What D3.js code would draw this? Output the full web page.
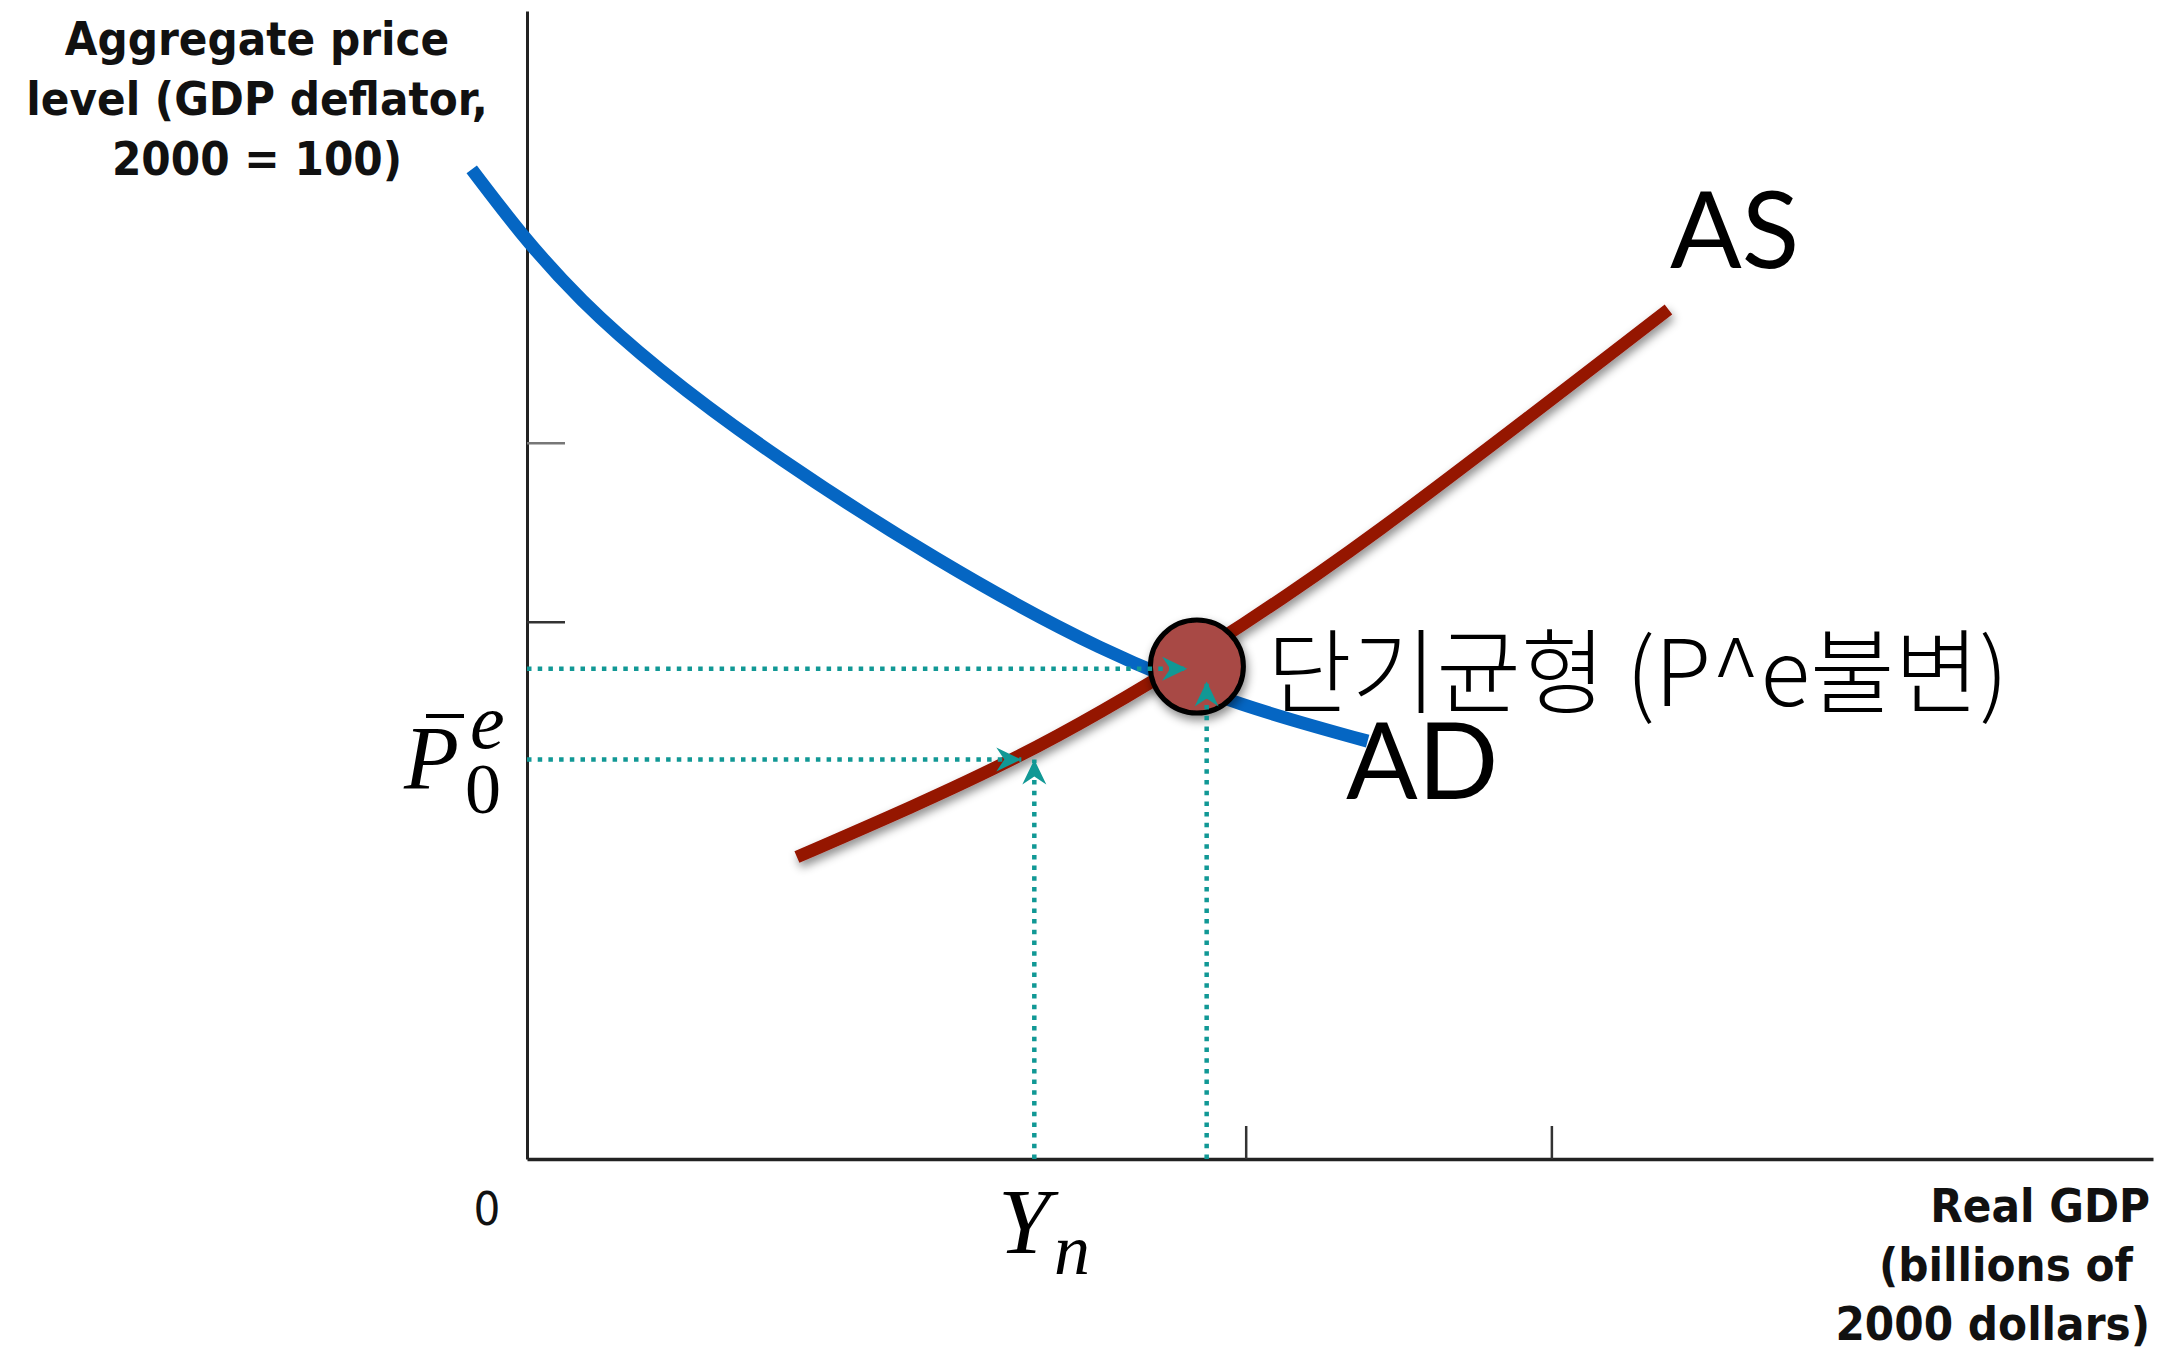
<!DOCTYPE html>
<html>
<head>
<meta charset="utf-8">
<script src="https://cdn.jsdelivr.net/npm/d3@7"></script>
<style>
  html, body { margin: 0; padding: 0; background: #fff; }
  svg { display: block; }
</style>
</head>
<body>
<div id="chart"></div>
<script>
// curve data (arbitrary units, 0-100 on both axes)
const adX = [-3.4, 3.4, 15.7, 35.2, 51.7];
const adY = [86.2, 74.8, 60.9, 44.6, 36.4];
const asX = [16.6, 30.1, 41.2, 52.6, 70.2];
const asY = [26.3, 35.0, 44.0, 55.0, 74.0];

// short-run equilibrium marker and guide levels
const eqPoint = [41.2, 42.9];
const eqPrice = 42.7;
const pExpected = 34.8;
const yNatural = 31.2;
const eqOutput = 41.8;

// tick positions (no labels)
const xTicks = [44.2, 63.0];
const yTicks = [62.4, 46.8];

const yTitle = ["Aggregate price", "level (GDP deflator,", "2000 = 100)"];
const xTitle = ["Real GDP", "(billions of", "2000 dollars)"];

const W = 2171, H = 1356;

const svg = d3.select("#chart")
  .append("svg")
  .attr("width", W)
  .attr("height", H);

const x = d3.scaleLinear().domain([0, 100]).range([527, 2153]);
const y = d3.scaleLinear().domain([0, 100]).range([1159, 11]);

const defs = svg.append("defs");
const shadow = defs.append("filter").attr("id", "shadow")
  .attr("x", "-20%").attr("y", "-20%").attr("width", "140%").attr("height", "140%");
shadow.append("feDropShadow")
  .attr("dx", 2).attr("dy", 5).attr("stdDeviation", 5)
  .attr("flood-color", "#000").attr("flood-opacity", 0.45);

const teal = "#119895";
defs.append("marker")
  .attr("id", "arrow")
  .attr("viewBox", "-26 -13 28 26")
  .attr("markerUnits", "userSpaceOnUse")
  .attr("markerWidth", 28)
  .attr("markerHeight", 26)
  .attr("refX", 0).attr("refY", 0)
  .attr("orient", "auto")
  .append("path")
  .attr("d", "M0,0 L-25,-12 L-17,0 L-25,12 Z")
  .attr("fill", teal);

// axes
const axisFont = "'DejaVu Sans Condensed', 'DejaVu Sans', sans-serif";

svg.append("g")
  .attr("transform", `translate(${x(0)},0)`)
  .call(d3.axisLeft(y).tickValues(yTicks).tickSize(-38).tickSizeOuter(0).tickFormat(""))
  .call(g => g.select(".domain").attr("stroke", "#222").attr("stroke-width", 3))
  .call(g => g.selectAll(".tick line").attr("stroke", (d, i) => i === 0 ? "#777" : "#333").attr("stroke-width", 2.5));

svg.append("g")
  .attr("transform", `translate(0,${y(0)})`)
  .call(d3.axisBottom(x).tickValues(xTicks).tickSize(-33).tickSizeOuter(0).tickFormat(""))
  .call(g => g.select(".domain").attr("stroke", "#222").attr("stroke-width", 3.5))
  .call(g => g.selectAll(".tick line").attr("stroke", "#333").attr("stroke-width", 2.5));

// axis titles
svg.append("g").selectAll("text")
  .data(yTitle)
  .join("text")
  .attr("x", 257)
  .attr("y", (d, i) => 55 + i * 60)
  .attr("text-anchor", "middle")
  .attr("font-family", axisFont)
  .attr("font-weight", "bold")
  .attr("font-size", 47)
  .attr("fill", "#111")
  .text(d => d);

svg.append("g").selectAll("text")
  .data(xTitle)
  .join("text")
  .attr("x", (d, i) => i === 1 ? 2133 : 2150)
  .attr("y", (d, i) => 1222 + i * 59)
  .attr("text-anchor", "end")
  .attr("font-family", axisFont)
  .attr("font-weight", "bold")
  .attr("font-size", 47)
  .attr("fill", "#111")
  .text(d => d);

svg.append("text")
  .attr("x", 487).attr("y", 1225)
  .attr("text-anchor", "middle")
  .attr("font-family", axisFont)
  .attr("font-size", 47)
  .attr("fill", "#111")
  .text("0");

// curves
const line = d3.line()
  .x(d => x(d[0]))
  .y(d => y(d[1]))
  .curve(d3.curveNatural);

svg.append("path")
  .datum(adX.map((v, i) => [v, adY[i]]))
  .attr("d", line)
  .attr("fill", "none")
  .attr("stroke", "#0566C3")
  .attr("stroke-width", 13);

svg.append("path")
  .datum(asX.map((v, i) => [v, asY[i]]))
  .attr("d", line)
  .attr("fill", "none")
  .attr("stroke", "#951300")
  .attr("stroke-width", 12.5)
  .attr("filter", "url(#shadow)");

// equilibrium point
svg.append("circle")
  .attr("cx", x(eqPoint[0]))
  .attr("cy", y(eqPoint[1]))
  .attr("r", 46.5)
  .attr("fill", "#A84A44")
  .attr("stroke", "#000")
  .attr("stroke-width", 5)
  .attr("filter", "url(#shadow)");

// dotted guide lines with arrows
const guides = [
  [[0, eqPrice], [40.6, eqPrice]],
  [[0, pExpected], [30.4, pExpected]],
  [[yNatural, 0], [yNatural, 34.8]],
  [[eqOutput, 0], [eqOutput, 41.6]]
];

svg.append("g").selectAll("path")
  .data(guides)
  .join("path")
  .attr("d", d3.line().x(d => x(d[0])).y(d => y(d[1])))
  .attr("fill", "none")
  .attr("stroke", teal)
  .attr("stroke-width", 4.5)
  .attr("stroke-dasharray", "4.5 6.2")
  .attr("marker-end", "url(#arrow)");

// curve labels
const labelFont = "Lato, 'Open Sans', sans-serif";
svg.append("text")
  .attr("x", 1670).attr("y", 268)
  .attr("font-family", labelFont)
  .attr("font-size", 106)
  .attr("fill", "#000")
  .text("AS");

svg.append("text")
  .attr("x", 1346).attr("y", 799)
  .attr("font-family", labelFont)
  .attr("font-size", 106)
  .attr("fill", "#000")
  .text("AD");

svg.append("text")
  .attr("x", 1267).attr("y", 706)
  .attr("font-family", "'Noto Sans CJK KR', sans-serif")
  .attr("font-weight", 300)
  .attr("font-size", 92)
  .attr("fill", "#000")
  .text("단기균형 (P^e불변)");

// math labels
const mathFont = "'Liberation Serif', 'DejaVu Serif', serif";
svg.append("text")
  .attr("x", 404).attr("y", 789)
  .attr("font-family", mathFont)
  .attr("font-style", "italic")
  .attr("font-size", 90)
  .text("P");
svg.append("line")
  .attr("x1", 426).attr("x2", 464)
  .attr("y1", 716).attr("y2", 716)
  .attr("stroke", "#000").attr("stroke-width", 4);
svg.append("text")
  .attr("x", 470).attr("y", 748)
  .attr("font-family", mathFont)
  .attr("font-style", "italic")
  .attr("font-size", 78)
  .text("e");
svg.append("text")
  .attr("x", 465).attr("y", 813)
  .attr("font-family", mathFont)
  .attr("font-size", 72)
  .text("0");

svg.append("text")
  .attr("x", 998).attr("y", 1253)
  .attr("font-family", mathFont)
  .attr("font-style", "italic")
  .attr("font-size", 94)
  .text("Y");
svg.append("text")
  .attr("x", 1054).attr("y", 1274)
  .attr("font-family", mathFont)
  .attr("font-style", "italic")
  .attr("font-size", 72)
  .text("n");
</script>
</body>
</html>
